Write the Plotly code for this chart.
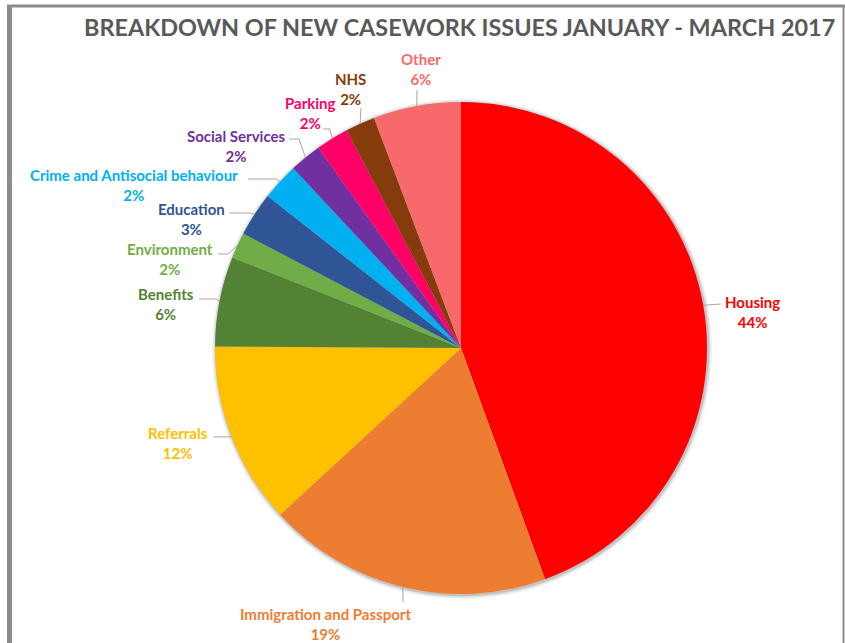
import math
import plotly.graph_objects as go

# ---------------- data ----------------
categories = [
    "Housing", "Immigration and Passport", "Referrals", "Benefits",
    "Environment", "Education", "Crime and Antisocial behaviour",
    "Social Services", "Parking", "NHS", "Other",
]
values = [44.45, 18.7, 11.95, 5.9, 1.7, 2.9, 2.45, 2.1, 2.15, 1.95, 5.75]
colors = [
    "#FF0000", "#ED7D31", "#FFC000", "#548235", "#70AD47", "#2F5597",
    "#00B0F0", "#7030A0", "#FF0066", "#843C0C", "#F8696B",
]
title_text = "BREAKDOWN OF NEW CASEWORK ISSUES JANUARY - MARCH 2017"

# ---------------- layout constants (pixels) ----------------
W, H = 845, 643
PIE_CX, PIE_CY, PIE_R = 461, 348, 246
FONT = "Lato, Roboto, sans-serif"

# label block centre and leader-line start/elbow points (pixels)
label_pos = {
    "Housing": dict(c=(752, 312), lead=[(721, 304)]),
    "Immigration and Passport": dict(c=(325, 624), lead=[(403, 602)]),
    "Referrals": dict(c=(178, 443), lead=[(213, 437)]),
    "Benefits": dict(c=(166, 304), lead=[(199, 299), (216, 299)]),
    "Environment": dict(c=(170, 259), lead=[(218, 254), (228, 254)]),
    "Education": dict(c=(191, 219), lead=[(229, 213), (250, 213)]),
    "Crime and Antisocial behaviour": dict(c=(134, 185), lead=[(248, 179), (276, 179)]),
    "Social Services": dict(c=(236, 146), lead=[(289, 139), (299, 139)]),
    "Parking": dict(c=(310, 113), lead=[(323, 129), (330, 129)]),
    "NHS": dict(c=(350, 89), lead=[(361, 108)]),
    "Other": dict(c=(421, 69), lead=[(417, 90)]),
}


def fx(px):
    return px / W


def fy(py):
    return 1 - py / H


fig = go.Figure()
fig.add_trace(go.Pie(
    labels=categories,
    values=values,
    sort=False,
    direction="clockwise",
    rotation=0,
    marker=dict(colors=colors, line=dict(width=0)),
    textinfo="none",
    hoverinfo="label+percent",
    showlegend=False,
    domain=dict(x=[fx(PIE_CX - PIE_R), fx(PIE_CX + PIE_R)],
                y=[fy(PIE_CY + PIE_R), fy(PIE_CY - PIE_R)]),
))

total = sum(values)
annotations = []
shapes = []

# soft shadow around pie
for dr, op in [(4, 0.05), (2.5, 0.08), (1.2, 0.12)]:
    shapes.append(dict(
        type="circle", xref="paper", yref="paper", layer="below",
        x0=fx(PIE_CX - PIE_R - dr + 1), x1=fx(PIE_CX + PIE_R + dr + 1),
        y0=fy(PIE_CY + PIE_R + dr + 1), y1=fy(PIE_CY - PIE_R - dr + 1),
        fillcolor=f"rgba(0,0,0,{op})", line=dict(width=0),
    ))

cum = 0.0
for cat, val, col in zip(categories, values, colors):
    mid = (cum + val / 2) / total
    cum += val
    theta = 2 * math.pi * mid
    tip = (PIE_CX + PIE_R * math.sin(theta), PIE_CY - PIE_R * math.cos(theta))
    info = label_pos[cat]
    pts = info["lead"] + [tip]
    path = "M " + " L ".join(f"{fx(x):.5f},{fy(y):.5f}" for x, y in pts)
    shapes.append(dict(type="path", xref="paper", yref="paper", path=path,
                       line=dict(color="#A6A6A6", width=1)))
    cx, cy = info["c"]
    annotations.append(dict(
        x=fx(cx), y=fy(cy), xref="paper", yref="paper",
        xanchor="center", yanchor="middle", align="center", showarrow=False,
        text=f"<b>{cat}</b><br><b>{val / total:.0%}</b>",
        font=dict(family=FONT, size=15, color=col),
    ))

# title
annotations.append(dict(
    x=fx(459), y=fy(27), xref="paper", yref="paper",
    xanchor="center", yanchor="middle", showarrow=False,
    text=f"<b>{title_text}</b>",
    font=dict(family=FONT, size=23.4, color="#595959"),
))

# chart frame (top, left, right borders)
shapes += [
    dict(type="line", xref="paper", yref="paper", x0=fx(7), x1=1, y0=fy(6), y1=fy(6),
         line=dict(color="#8C8C8C", width=3)),
    dict(type="line", xref="paper", yref="paper", x0=fx(9.5), x1=fx(9.5), y0=fy(5), y1=0,
         line=dict(color="#8C8C8C", width=5)),
    dict(type="line", xref="paper", yref="paper", x0=fx(843.5), x1=fx(843.5), y0=fy(5), y1=0,
         line=dict(color="#8C8C8C", width=2)),
]

fig.update_layout(
    width=W, height=H,
    margin=dict(l=0, r=0, t=0, b=0),
    paper_bgcolor="white", plot_bgcolor="white",
    annotations=annotations, shapes=shapes,
)

fig.write_html("out.html", config={"displayModeBar": False},
               post_script="document.body.style.margin='0';document.body.style.overflow='hidden';")
